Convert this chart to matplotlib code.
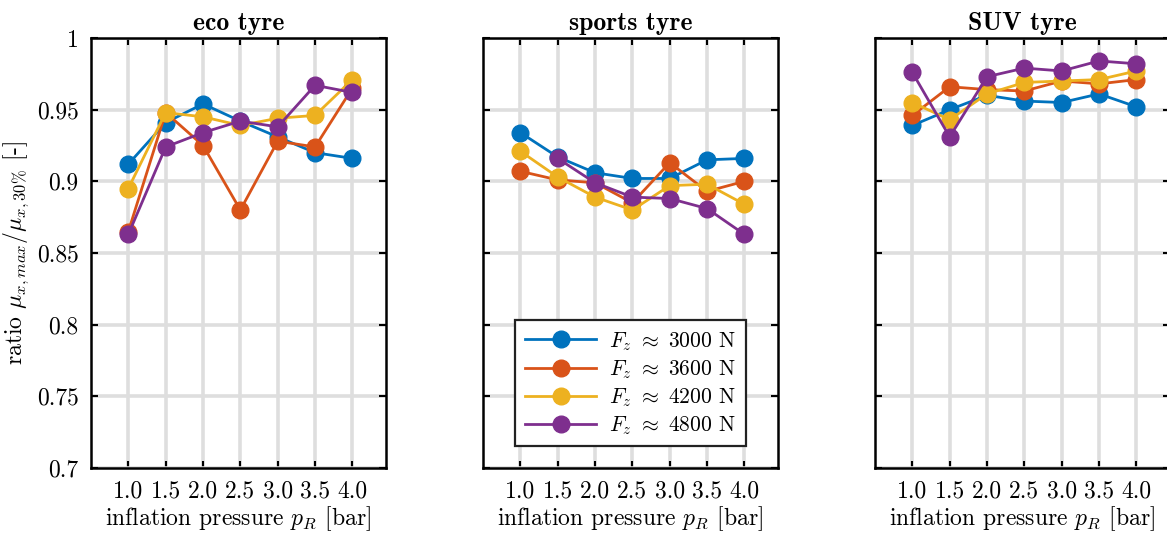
import numpy as np
import matplotlib
matplotlib.use("Agg")
import matplotlib.pyplot as plt

plt.rcParams['font.family'] = 'serif'
plt.rcParams['font.serif'] = ['cmr10', 'DejaVu Serif']
plt.rcParams['mathtext.fontset'] = 'cm'
plt.rcParams['axes.unicode_minus'] = False

pressure = [1.0, 1.5, 2.0, 2.5, 3.0, 3.5, 4.0]
xticklabels = ['1.0', '1.5', '2.0', '2.5', '3.0', '3.5', '4.0']
loads = ['3000', '3600', '4200', '4800']
titles = ['eco tyre', 'sports tyre', 'SUV tyre']

eco_3000 = [0.912, 0.941, 0.954, 0.942, 0.931, 0.920, 0.916]
eco_3600 = [0.865, 0.948, 0.925, 0.880, 0.928, 0.924, 0.965]
eco_4200 = [0.895, 0.948, 0.945, 0.939, 0.944, 0.946, 0.971]
eco_4800 = [0.863, 0.924, 0.934, 0.942, 0.938, 0.967, 0.962]

sports_3000 = [0.934, 0.917, 0.906, 0.902, 0.902, 0.915, 0.916]
sports_3600 = [0.907, 0.901, 0.899, 0.885, 0.913, 0.893, 0.900]
sports_4200 = [0.921, 0.903, 0.889, 0.880, 0.897, 0.898, 0.884]
sports_4800 = [np.nan, 0.916, 0.899, 0.889, 0.888, 0.881, 0.863]

suv_3000 = [0.939, 0.950, 0.960, 0.956, 0.955, 0.961, 0.952]
suv_3600 = [0.946, 0.966, 0.964, 0.963, 0.970, 0.968, 0.971]
suv_4200 = [0.955, 0.943, 0.961, 0.969, 0.970, 0.971, 0.977]
suv_4800 = [0.976, 0.931, 0.973, 0.979, 0.977, 0.984, 0.982]

data = [
    [eco_3000, eco_3600, eco_4200, eco_4800],
    [sports_3000, sports_3600, sports_4200, sports_4800],
    [suv_3000, suv_3600, suv_4200, suv_4800],
]
colors = ['#0072BD', '#D95319', '#EDB120', '#7E2F8E']

fig = plt.figure(figsize=(11.67, 5.34), dpi=100)
lefts = [91, 483, 875]
W, H = 1167.0, 534.0

for i in range(3):
    ax = fig.add_axes([lefts[i] / W, (H - 468) / H, 295 / W, 430 / H])
    for j in range(4):
        ax.plot(pressure, data[i][j], '-o', color=colors[j], lw=2.0, ms=12,
                label=r'$F_z\ \approx\ %s$ N' % loads[j], zorder=3)
    ax.set_xlim(0.5, 4.45)
    ax.set_ylim(0.7, 1.0)
    ax.set_xticks(pressure)
    ax.set_xticklabels(xticklabels)
    ax.set_yticks(np.arange(0.7, 1.001, 0.05))
    if i == 0:
        ax.set_yticklabels(['0.7', '0.75', '0.8', '0.85', '0.9', '0.95', '1'])
        ax.set_ylabel(r'ratio $\mu_{x,max}/\mu_{x,30\%}$ [-]', fontsize=17)
    else:
        ax.set_yticklabels([])
    ax.grid(True, color='#dedede', lw=2.6, zorder=0)
    ax.set_axisbelow(True)
    ax.tick_params(direction='in', top=True, right=True, length=5, width=1.5,
                   labelsize=17, pad=9)
    for s in ax.spines.values():
        s.set_linewidth(1.8)
    ax.set_xlabel(r'inflation pressure $p_R$ [bar]', fontsize=17, labelpad=1)
    ax.set_title(titles[i], fontsize=18.5, fontfamily='cmb10', pad=6)
    if i == 1:
        leg = ax.legend(loc='lower center', bbox_to_anchor=(0.5, 0.025),
                        fontsize=15.5, fancybox=False, edgecolor='#222222',
                        framealpha=1, handlelength=3.3, labelspacing=0.25,
                        borderpad=0.45, handletextpad=0.6)
        leg.get_frame().set_linewidth(1.6)

fig.savefig('out.png', dpi=100)
